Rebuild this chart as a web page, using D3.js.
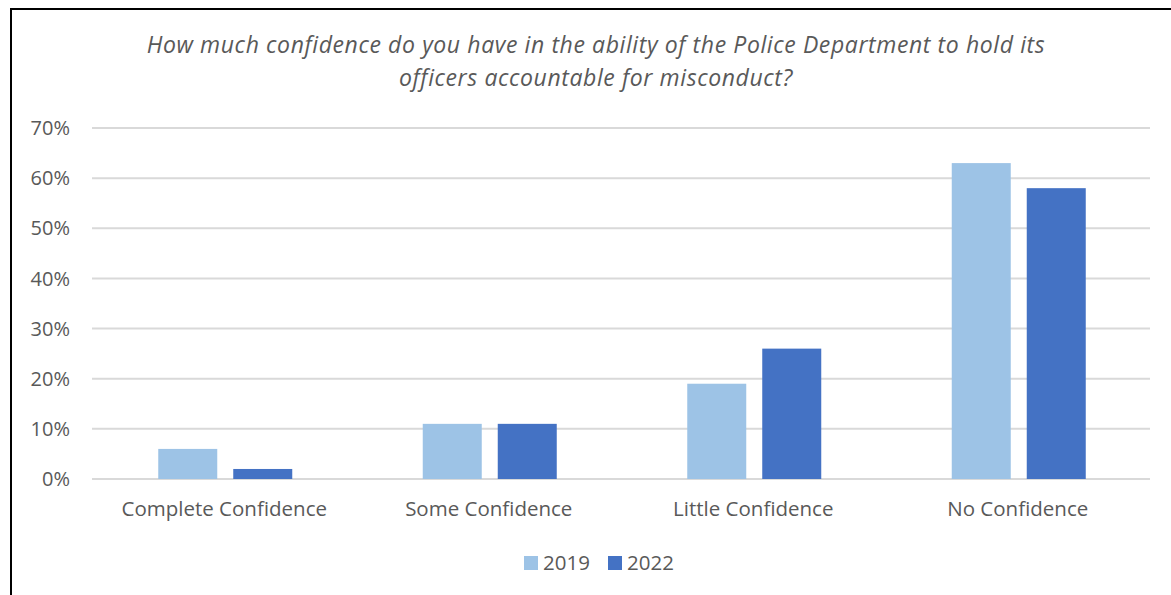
<!DOCTYPE html>
<html>
<head>
<meta charset="utf-8">
<script src="https://cdn.jsdelivr.net/npm/d3@7"></script>
<style>
  html, body { margin: 0; padding: 0; background: #fff; }
  svg { display: block; }
  text { font-family: "Open Sans", "Noto Sans", sans-serif; fill: #595959; }
</style>
</head>
<body>
<svg id="chart" width="1171" height="595"></svg>
<script>
// Survey responses by year
const categories = ["Complete Confidence", "Some Confidence", "Little Confidence", "No Confidence"];
const years = ["2019", "2022"];
const values2019 = [6, 11, 19, 63];
const values2022 = [2, 11, 26, 58];
const yTicks = [0, 10, 20, 30, 40, 50, 60, 70];
const titleLines = [
  "How much confidence do you have in the ability of the Police Department to hold its",
  "officers accountable for misconduct?"
];
const colors = ["#9dc3e6", "#4472c4"];

const svg = d3.select("#chart");

// Outer frame
svg.append("rect")
  .attr("x", 11).attr("y", 9)
  .attr("width", 1200).attr("height", 620)
  .attr("fill", "none").attr("stroke", "#000").attr("stroke-width", 2);

const plot = { left: 92, right: 1150, top: 128, bottom: 479 };

const x0 = d3.scaleBand().domain(categories).range([plot.left, plot.right]).paddingInner(0).paddingOuter(0);
const y = d3.scaleLinear().domain([0, 70]).range([plot.bottom, plot.top]);

// Gridlines
svg.append("g").selectAll("line").data(yTicks).join("line")
  .attr("x1", plot.left).attr("x2", plot.right)
  .attr("y1", d => y(d)).attr("y2", d => y(d))
  .attr("stroke", "#d9d9d9").attr("stroke-width", 2);

// Y tick labels
svg.append("g").selectAll("text").data(yTicks).join("text")
  .attr("x", 70).attr("y", d => y(d))
  .attr("dy", "0.36em")
  .attr("text-anchor", "end")
  .attr("font-size", 20)
  .text(d => d + "%");

// Bars: two per category, fixed width with a small gap between them
const barW = 59, gap = 16;
const groupW = barW * 2 + gap;
const x1 = d3.scaleBand().domain(years)
  .range([0, groupW]).paddingInner(gap / (barW + gap)).paddingOuter(0);
const series = [values2019, values2022];

const groups = svg.append("g").selectAll("g").data(categories).join("g")
  .attr("transform", d => `translate(${x0(d) + x0.bandwidth() / 2 - groupW / 2 + 1},0)`);

groups.selectAll("rect")
  .data((c, i) => years.map((yr, j) => ({ yr, v: series[j][i], color: colors[j] })))
  .join("rect")
  .attr("x", d => x1(d.yr))
  .attr("width", x1.bandwidth())
  .attr("y", d => y(d.v))
  .attr("height", d => y(0) - y(d.v))
  .attr("fill", d => d.color);

// Category labels
svg.append("g").selectAll("text").data(categories).join("text")
  .attr("x", d => x0(d) + x0.bandwidth() / 2)
  .attr("y", 516)
  .attr("text-anchor", "middle")
  .attr("font-size", 20.5)
  .text(d => d);

// Title
svg.append("g").selectAll("text").data(titleLines).join("text")
  .attr("x", 596)
  .attr("y", (d, i) => 53 + i * 33)
  .attr("text-anchor", "middle")
  .attr("font-size", 23)
  .attr("letter-spacing", 0.6)
  .attr("font-style", "italic")
  .text(d => d);

// Legend
const legend = svg.append("g");
const legendX = [524, 608];
years.forEach((yr, j) => {
  legend.append("rect")
    .attr("x", legendX[j]).attr("y", 556)
    .attr("width", 14).attr("height", 14)
    .attr("fill", colors[j]);
  legend.append("text")
    .attr("x", legendX[j] + 19).attr("y", 563)
    .attr("dy", "0.36em")
    .attr("font-size", 20.5)
    .text(yr);
});
</script>
</body>
</html>
